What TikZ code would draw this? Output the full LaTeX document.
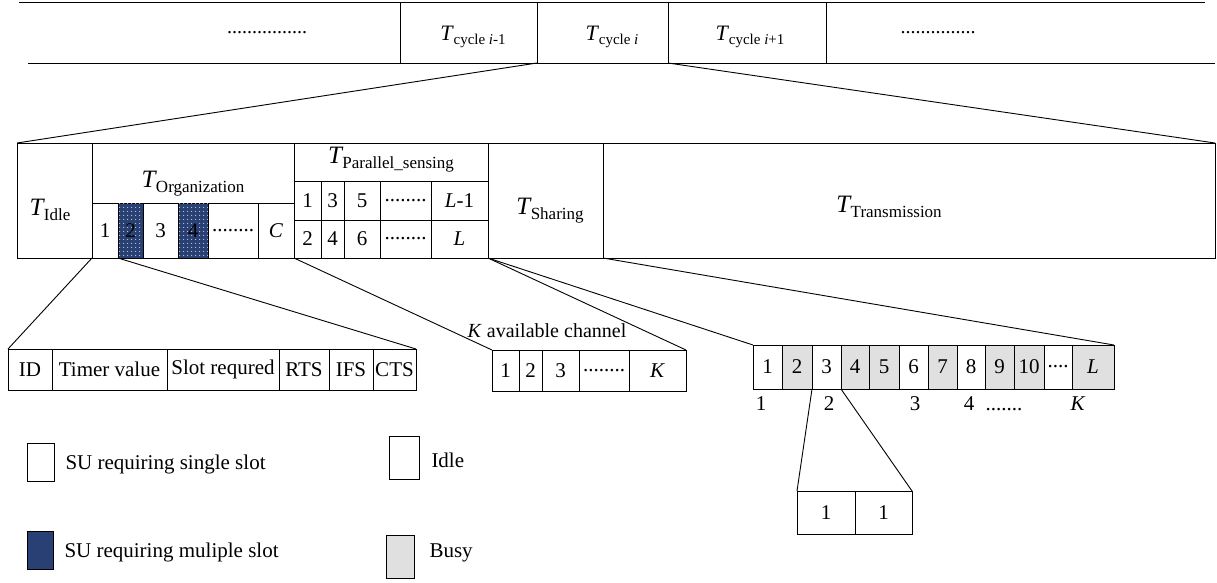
\documentclass[tikz,border=0pt]{standalone}
\usepackage{fontspec}
\setmainfont{Liberation Serif}
\usetikzlibrary{patterns.meta}
\definecolor{sublue}{RGB}{40,64,116}
\definecolor{busygray}{RGB}{224,224,224}

% rectangular cell from its corners: [style]{name}{x1}{y1}{x2}{y2}{text}
\newcommand\Cell[7][]{\node[cellbox,#1,minimum width={(#5-#3)*1pt},minimum height={(#6-#4)*1pt}] (#2) at ({(#3+#5)/2},{(#4+#6)/2}) {#7};}
% period labels with subscripts
\newcommand\Tbig[1]{{\fontsize{25}{28}\selectfont\itshape T}\kern0.5pt\raisebox{-5pt}{\fontsize{17}{20}\selectfont #1}}
\newcommand\Tcyc[1]{{\fontsize{22}{26}\selectfont\itshape T}\kern1pt\raisebox{-4pt}{\fontsize{15}{18}\selectfont cycle #1}}

\begin{document}
\begin{tikzpicture}[x=1pt,y=-1pt,line width=1pt,
  cellbox/.style={draw,inner sep=0pt,outer sep=0pt,font=\fontsize{21}{24}\selectfont},
  field/.style={font=\fontsize{21}{24}\selectfont},
  busy/.style={fill=busygray},
  multi/.style={fill=sublue,postaction={pattern={Dots[radius=0.6pt,distance=4pt]},pattern color=white}},
  solidblue/.style={fill=sublue},
  link/.style={line width=0.9pt},
  lbl/.style={inner sep=0pt,font=\fontsize{21}{24}\selectfont},
  tlab/.style={inner sep=0pt,anchor=base},
  legendtext/.style={anchor=base west,inner sep=0pt,font=\fontsize{21}{24}\selectfont}]

\useasboundingbox (0,0) rectangle (1217,582);

% ---- cycle strip ----
\Cell{cprev}{400}{2}{537}{63}{}
\Cell{ccur}{537}{2}{668}{63}{}
\Cell{cnext}{668}{2}{826}{63}{}
\coordinate (topL) at (19,2);
\coordinate (topR) at (1205,2);
\coordinate (botL) at (28,63);
\coordinate (botR) at (1215,63);
\draw (topL) -- (topR);
\draw (botL) -- (botR);
\node[tlab] (cprevT) at (473,40) {\Tcyc{\textit{i}-1}};
\node[tlab] (ccurT) at (612,40) {\Tcyc{\textit{i}}};
\node[tlab] (cnextT) at (750,40) {\Tcyc{\textit{i}+1}};
\node[lbl,font=\fontsize{20}{22}\selectfont] (dotsL) at (267,33) {................};
\node[lbl,font=\fontsize{20}{22}\selectfont] (dotsR) at (938,33) {...............};

% ---- one cycle ----
\Cell{idle}{17}{143}{92}{258}{}
\Cell{orghead}{92}{143}{294}{203}{}
\Cell{o1}{92}{203}{118}{258}{1}
\Cell[multi]{o2}{118}{203}{143}{258}{2}
\Cell{o3}{143}{203}{178}{258}{3}
\Cell[multi]{o4}{178}{203}{208}{258}{4}
\Cell{o5}{208}{203}{258}{258}{........}
\Cell{o6}{258}{203}{294}{258}{\textit{C}}
\Cell{parhead}{294}{143}{488}{181}{}
\Cell{pa1}{294}{181}{321}{220}{1}
\Cell{pa3}{321}{181}{344}{220}{3}
\Cell{pa5}{344}{181}{380}{220}{5}
\Cell{pad}{380}{181}{431}{220}{........}
\Cell{pal}{431}{181}{488}{220}{\textit{L}-1}
\Cell{pb2}{294}{220}{321}{258}{2}
\Cell{pb4}{321}{220}{344}{258}{4}
\Cell{pb6}{344}{220}{380}{258}{6}
\Cell{pbd}{380}{220}{431}{258}{........}
\Cell{pbl}{431}{220}{488}{258}{\textit{L}}
\Cell{share}{488}{143}{603}{258}{}
\Cell{trans}{603}{143}{1215}{258}{}
\node[tlab] (idleT) at (50,215) {\Tbig{Idle}};
\node[tlab] (orgT) at (193,187) {\Tbig{Organization}};
\node[tlab] (parT) at (391,163) {\Tbig{Parallel\_sensing}};
\node[tlab] (shareT) at (550,214) {\Tbig{Sharing}};
\node[tlab] (transT) at (889,212) {\Tbig{Transmission}};

\draw[link] (ccur.south west) -- (idle.north west);
\draw[link] (ccur.south east) -- (trans.north east);

% ---- request fields ----
\Cell[field]{id}{8}{349}{52}{390}{ID}
\Cell[field]{timer}{52}{349}{167}{390}{Timer value}
\Cell[field]{slotreq}{167}{349}{279}{390}{Slot requred}
\Cell[field]{rts}{279}{349}{329}{390}{RTS}
\Cell[field]{ifs}{329}{349}{373}{390}{IFS}
\Cell[field]{cts}{373}{349}{416}{390}{CTS}
\draw[link] (o1.south west) -- (id.north west);
\draw[link] (o2.south west) -- (cts.north east);

% ---- available channels ----
\Cell{k1}{492}{350}{519}{391}{1}
\Cell{k2}{519}{350}{542}{391}{2}
\Cell{k3}{542}{350}{579}{391}{3}
\Cell{kd}{579}{350}{629}{391}{........}
\Cell{kk}{629}{350}{686}{391}{\textit{K}}
\node[tlab,font=\fontsize{20}{22}\selectfont] (kavail) at (547,337) {\textit{K} available channel};
\draw[link] (o6.south east) -- (k1.north west);
\draw[link] (pbl.south east) -- (kk.north east);

% ---- sensed slots ----
\Cell{s1}{753}{345}{782}{389}{1}
\Cell[busy]{s2}{782}{345}{812}{389}{2}
\Cell{s3}{812}{345}{841}{389}{3}
\Cell[busy]{s4}{841}{345}{869}{389}{4}
\Cell[busy]{s5}{869}{345}{899}{389}{5}
\Cell{s6}{899}{345}{928}{389}{6}
\Cell[busy]{s7}{928}{345}{957}{389}{7}
\Cell{s8}{957}{345}{985}{389}{8}
\Cell[busy]{s9}{985}{345}{1014}{389}{9}
\Cell[busy]{s10}{1014}{345}{1044}{389}{10}
\Cell{sd}{1044}{345}{1072}{389}{....}
\Cell[busy]{sl}{1072}{345}{1114}{389}{\textit{L}}
\node[tlab,font=\fontsize{21}{24}\selectfont] (ch1) at (761,410) {1};
\node[tlab,font=\fontsize{21}{24}\selectfont] (ch2) at (829,410) {2};
\node[tlab,font=\fontsize{21}{24}\selectfont] (ch3) at (915,410) {3};
\node[tlab,font=\fontsize{21}{24}\selectfont] (ch4) at (969,410) {4};
\node[tlab,font=\fontsize{21}{24}\selectfont] (chd) at (1004,410) {.......};
\node[tlab,font=\fontsize{21}{24}\selectfont] (chk) at (1078,410) {\textit{K}};
\draw[link] (pbl.south east) -- (s1.north west);
\draw[link] (trans.south west) -- (sl.north east);

% ---- shared slot ----
\Cell{u1}{797}{491}{855}{534}{1}
\Cell{u2}{855}{491}{912}{534}{1}
\draw[link] (s3.south west) -- (u1.north west);
\draw[link] (s3.south east) -- (u2.north east);

% ---- legend ----
\Cell{legsingle}{27}{443}{54}{481}{}
\node[legendtext] (legsingleT) at (65,469) {SU requiring single slot};
\Cell[solidblue]{legmulti}{27}{531}{53}{569}{}
\node[legendtext] (legmultiT) at (64,557) {SU requiring muliple slot};
\Cell{legidle}{389}{436}{419}{479}{}
\node[legendtext] (legidleT) at (431,467) {Idle};
\Cell[busy]{legbusy}{386}{535}{414}{578}{}
\node[legendtext] (legbusyT) at (429,557) {Busy};
\end{tikzpicture}
\end{document}
